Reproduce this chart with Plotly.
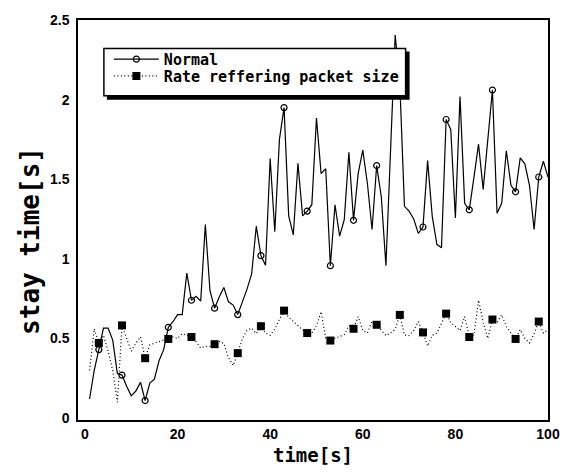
import plotly.graph_objects as go

time_s = list(range(1, 101))

normal = [
    0.12, 0.30, 0.43, 0.565, 0.565, 0.49, 0.28, 0.27, 0.20, 0.14,
    0.17, 0.225, 0.11, 0.22, 0.245, 0.36, 0.43, 0.57, 0.605, 0.65,
    0.65, 0.91, 0.74, 0.765, 0.735, 1.215, 0.80, 0.69, 0.76, 0.82,
    0.73, 0.71, 0.65, 0.73, 0.81, 0.905, 1.205, 1.02, 0.96, 1.63,
    1.17, 1.75, 1.95, 1.27, 1.15, 1.60, 1.27, 1.30, 1.34, 1.885,
    1.535, 1.566, 0.957, 1.339, 1.143, 1.246, 1.669, 1.242, 1.535, 1.683,
    1.473, 1.184, 1.586, 1.39, 0.957, 1.68, 2.405, 2.1, 1.33, 1.30,
    1.25, 1.16, 1.20, 1.617, 1.267, 1.091, 1.07, 1.875, 1.813, 1.256,
    2.02, 1.349, 1.308, 1.51, 1.72, 1.436, 1.75, 2.06, 1.287, 1.349,
    1.679, 1.462, 1.421, 1.634, 1.597, 1.462, 1.184, 1.514, 1.613, 1.514,
]

rate = [
    0.30, 0.56, 0.472, 0.52, 0.42, 0.30, 0.10, 0.582, 0.50, 0.42,
    0.47, 0.51, 0.376, 0.46, 0.47, 0.48, 0.49, 0.497, 0.51, 0.50,
    0.53, 0.52, 0.509, 0.48, 0.44, 0.45, 0.45, 0.464, 0.48, 0.47,
    0.38, 0.33, 0.408, 0.50, 0.55, 0.565, 0.53, 0.577, 0.534, 0.52,
    0.56, 0.62, 0.675, 0.633, 0.606, 0.58, 0.554, 0.534, 0.534, 0.58,
    0.668, 0.50, 0.487, 0.50, 0.51, 0.524, 0.58, 0.561, 0.637, 0.55,
    0.534, 0.61, 0.586, 0.55, 0.518, 0.534, 0.558, 0.648, 0.522, 0.518,
    0.55, 0.606, 0.538, 0.452, 0.52, 0.534, 0.59, 0.656, 0.60, 0.575,
    0.55, 0.637, 0.509, 0.52, 0.74, 0.60, 0.50, 0.619, 0.60, 0.648,
    0.575, 0.534, 0.497, 0.555, 0.50, 0.472, 0.53, 0.606, 0.534, 0.555,
]

series_names = ["Normal", "Rate reffering packet size"]
x_ticks = [0, 20, 40, 60, 80, 100]
y_ticks = [0, 0.5, 1, 1.5, 2, 2.5]
y_tick_labels = ["0", "0.5", "1", "1.5", "2", "2.5"]
x_title = "time[s]"
y_title = "stay time[s]"

# markers drawn every 5th sample, starting at t = 3 s
mark_idx = [i for i, t in enumerate(time_s) if (t - 3) % 5 == 0]
mark_t = [time_s[i] for i in mark_idx]

DOT = "1px,2.5px"
circle_marker = dict(symbol="circle-open", size=6, color="black",
                     line=dict(width=1.2, color="black"))
square_marker = dict(symbol="square", size=8, color="black")

fig = go.Figure()

fig.add_trace(go.Scatter(x=time_s, y=normal, mode="lines",
                         line=dict(color="black", width=1.2),
                         showlegend=False, hoverinfo="skip"))
fig.add_trace(go.Scatter(x=mark_t, y=[normal[i] for i in mark_idx], mode="markers",
                         marker=circle_marker, showlegend=False))
fig.add_trace(go.Scatter(x=time_s, y=rate, mode="lines",
                         line=dict(color="black", width=1.2, dash=DOT),
                         showlegend=False, hoverinfo="skip"))
fig.add_trace(go.Scatter(x=mark_t, y=[rate[i] for i in mark_idx], mode="markers",
                         marker=square_marker, showlegend=False))

# legend entries (one per legend so the spacing can be set)
fig.add_trace(go.Scatter(x=[None], y=[None], mode="lines+markers", name=series_names[0],
                         line=dict(color="black", width=1.2), marker=circle_marker,
                         legend="legend"))
fig.add_trace(go.Scatter(x=[None], y=[None], mode="lines+markers", name=series_names[1],
                         line=dict(color="black", width=1.2, dash=DOT), marker=square_marker,
                         legend="legend2"))

L, R, T, B = 78, 22, 14, 56
W, H = 572, 476
pw, ph = W - L - R, H - T - B

def pxx(px):
    return (px - L) / pw

def pxy(py):
    return (H - B - py) / ph

leg_font = dict(family="DejaVu Sans Mono", size=15, color="black", weight="bold")
leg_common = dict(xanchor="left", yanchor="middle", bgcolor="rgba(0,0,0,0)",
                  borderwidth=0, font=leg_font, itemwidth=45)

fig.update_layout(
    width=W, height=H,
    margin=dict(l=L, r=R, t=T, b=B),
    paper_bgcolor="white", plot_bgcolor="white",
    showlegend=True,
    legend=dict(x=pxx(109), y=pxy(54), **leg_common),
    legend2=dict(x=pxx(109), y=pxy(71), **leg_common),
    shapes=[
        dict(type="rect", xref="paper", yref="paper",
             x0=pxx(107), x1=pxx(411), y0=pxy(95), y1=pxy(46),
             fillcolor="black", line=dict(width=0), layer="above"),
        dict(type="rect", xref="paper", yref="paper",
             x0=pxx(104), x1=pxx(407), y0=pxy(91), y1=pxy(43),
             fillcolor="white", line=dict(width=1.5, color="black"), layer="above"),
    ],
    annotations=[
        dict(text=y_title, xref="paper", yref="paper", x=pxx(29), y=pxy(238),
             xanchor="center", yanchor="middle", textangle=-90, showarrow=False,
             font=dict(family="DejaVu Sans Mono", size=26, color="black", weight="bold")),
    ],
    xaxis=dict(range=[-1.5, 100], tickvals=x_ticks, ticks="", showgrid=False, zeroline=False,
               showline=True, linecolor="black", linewidth=1.5, mirror=True,
               tickfont=dict(family="Liberation Sans", size=14, color="black", weight="bold"),
               title=dict(text=x_title, standoff=8,
                          font=dict(family="DejaVu Sans Mono", size=19, color="black", weight="bold"))),
    yaxis=dict(range=[-0.012, 2.5], tickvals=y_ticks, ticktext=y_tick_labels, ticks="",
               showgrid=False, zeroline=False, ticklabelstandoff=4,
               showline=True, linecolor="black", linewidth=1.5, mirror=True,
               tickfont=dict(family="Liberation Sans", size=14, color="black", weight="bold")),
)

fig.write_html("out.html")
